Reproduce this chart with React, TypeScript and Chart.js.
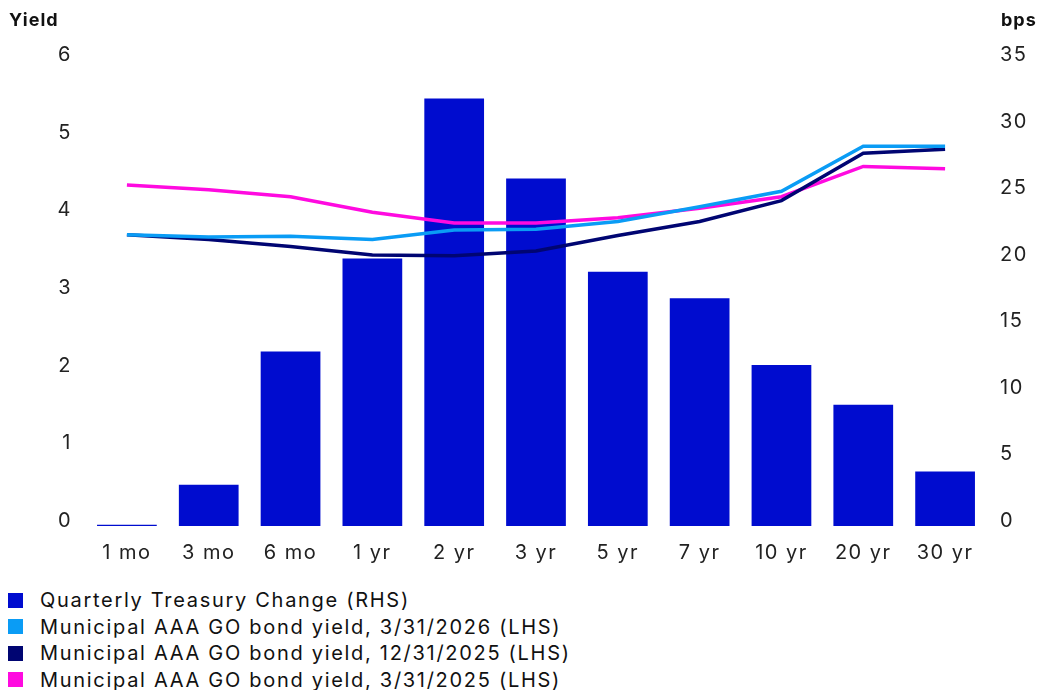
import React, { useEffect, useRef } from "react";
import { Chart, registerables } from "chart.js";

Chart.register(...registerables);

// Maturities along the curve
const tenors = ["1 mo", "3 mo", "6 mo", "1 yr", "2 yr", "3 yr", "5 yr", "7 yr", "10 yr", "20 yr", "30 yr"];

// Quarterly change in Treasury yields, basis points (right axis)
const treasuryChangeBps = [0.1, 3.1, 13.1, 20.1, 32.1, 26.1, 19.1, 17.1, 12.1, 9.1, 4.1];

// Municipal AAA GO yields, percent (left axis)
const muniYield2026Q1 = [3.75, 3.72, 3.73, 3.69, 3.81, 3.82, 3.92, 4.11, 4.31, 4.89, 4.89];
const muniYield2025Q4 = [3.75, 3.69, 3.6, 3.49, 3.48, 3.54, 3.74, 3.92, 4.19, 4.8, 4.85];
const muniYield2025Q1 = [4.39, 4.33, 4.24, 4.04, 3.9, 3.9, 3.97, 4.09, 4.24, 4.63, 4.6];

const seriesLabels = [
  "Quarterly Treasury Change (RHS)",
  "Municipal AAA GO bond yield, 3/31/2026 (LHS)",
  "Municipal AAA GO bond yield, 12/31/2025 (LHS)",
  "Municipal AAA GO bond yield, 3/31/2025 (LHS)",
];
const seriesColors = ["#000ccf", "#0a9cf5", "#000572", "#ff0ae0"];

const FONT = "Inter, 'Noto Sans', sans-serif";
const TRACKING = "1.5px";

// Wider tracking for all canvas text (tick labels and axis titles)
const tracking = {
  id: "tracking",
  beforeUpdate(chart: any) {
    chart.ctx.letterSpacing = TRACKING;
  },
  beforeDraw(chart: any) {
    chart.ctx.letterSpacing = TRACKING;
  },
};

const axisTitles = {
  id: "axisTitles",
  afterDraw(chart: any) {
    const { ctx } = chart;
    ctx.save();
    ctx.letterSpacing = "1px";
    ctx.fillStyle = "#111";
    ctx.font = `bold 18px ${FONT}`;
    ctx.textBaseline = "middle";
    ctx.textAlign = "left";
    ctx.fillText("Yield", 9, 21);
    ctx.fillText("bps", 1001, 21);
    ctx.restore();
  },
};

const lineSeries = (label: string, data: number[], color: string, order: number) => ({
  type: "line" as const,
  label,
  data,
  borderColor: color,
  backgroundColor: color,
  borderWidth: 3.5,
  pointRadius: 0,
  tension: 0,
  yAxisID: "y",
  order,
});

export default function App() {
  const canvasRef = useRef<HTMLCanvasElement | null>(null);

  useEffect(() => {
    if (!canvasRef.current) return;
    const tickFont = { family: FONT, size: 20 };
    const chart = new Chart(canvasRef.current, {
      type: "bar",
      data: {
        labels: tenors,
        datasets: [
          lineSeries(seriesLabels[1], muniYield2026Q1, seriesColors[1], 1),
          lineSeries(seriesLabels[2], muniYield2025Q4, seriesColors[2], 2),
          lineSeries(seriesLabels[3], muniYield2025Q1, seriesColors[3], 3),
          {
            type: "bar",
            label: seriesLabels[0],
            data: treasuryChangeBps,
            backgroundColor: seriesColors[0],
            borderWidth: 0,
            categoryPercentage: 1,
            barPercentage: 0.73,
            yAxisID: "y1",
            order: 10,
          },
        ] as any,
      },
      options: {
        responsive: false,
        devicePixelRatio: 1,
        animation: false,
        layout: { padding: { top: 60, left: 0, right: 0, bottom: 0 } },
        plugins: {
          legend: { display: false },
          tooltip: { enabled: false },
        },
        scales: {
          x: {
            grid: { display: false, drawTicks: false },
            border: { display: false },
            ticks: { color: "#222", font: tickFont, padding: 15 },
            afterFit: (s: any) => {
              s.height = 54;
            },
          },
          y: {
            position: "left",
            min: 0,
            max: 6,
            grid: { display: false, drawTicks: false },
            border: { display: false },
            ticks: {
              stepSize: 1,
              color: "#222",
              font: tickFont,
              padding: 14,
              labelOffset: -5,
            },
            afterFit: (s: any) => {
              s.width = 86;
            },
          },
          y1: {
            position: "right",
            min: 0,
            max: 35,
            grid: { display: false, drawTicks: false },
            border: { display: false },
            ticks: {
              stepSize: 5,
              color: "#222",
              font: tickFont,
              padding: 14,
              labelOffset: -5,
            },
            afterFit: (s: any) => {
              s.width = 55;
            },
          },
        },
      },
      plugins: [tracking, axisTitles],
    });
    return () => chart.destroy();
  }, []);

  return (
    <div
      style={{
        position: "fixed",
        left: 0,
        top: 0,
        width: 1041,
        height: 690,
        background: "#fff",
        fontFamily: FONT,
        overflow: "hidden",
      }}
    >
      <canvas ref={canvasRef} width={1041} height={580} style={{ display: "block" }} />
      <div style={{ position: "absolute", left: 8, top: 587 }}>
        {seriesLabels.map((label, i) => (
          <div
            key={label}
            style={{
              display: "flex",
              alignItems: "center",
              height: 26.5,
              fontSize: 20,
              letterSpacing: "1.7px",
              color: "#111",
              whiteSpace: "nowrap",
            }}
          >
            <span
              style={{
                display: "inline-block",
                width: 15,
                height: 15,
                background: seriesColors[i],
                marginRight: 17,
              }}
            />
            <span>{label}</span>
          </div>
        ))}
      </div>
    </div>
  );
}
